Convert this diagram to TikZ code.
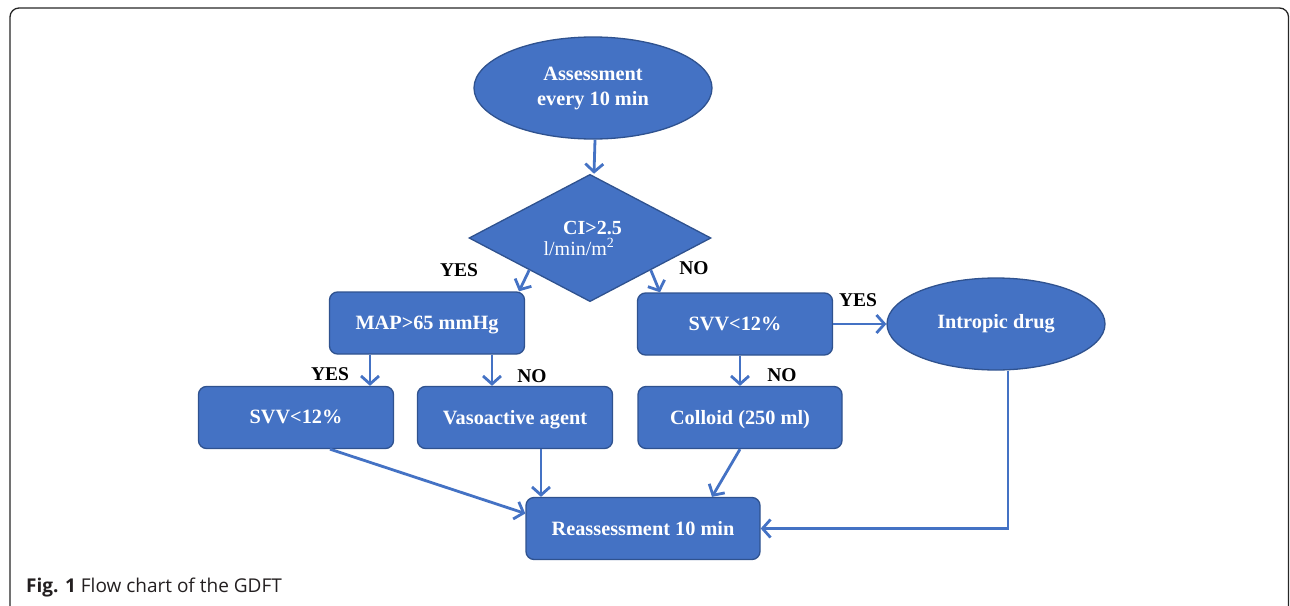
\documentclass[tikz,border=0pt]{standalone}
\usepackage{fontspec}
\setmainfont{Liberation Serif}
\newfontfamily\capfont{Open Sans}
\usetikzlibrary{shapes.geometric,arrows.meta,calc}
\definecolor{boxblue}{HTML}{4472C4}
\definecolor{boxborder}{HTML}{2F528F}
\definecolor{capgray}{HTML}{231F20}
\tikzset{
  box/.style={draw=boxborder, fill=boxblue, rounded corners=8pt, line width=1.3pt, text=white,
    font=\bfseries\fontsize{20.3}{24}\selectfont, minimum width=195pt, minimum height=62pt, inner sep=0pt,
    text depth=1pt},
  oval/.style={ellipse, draw=boxborder, fill=boxblue, line width=1.3pt, text=white,
    font=\bfseries\fontsize{20.3}{25}\selectfont, inner sep=0pt, align=center},
  arr/.style={draw=boxblue, line width=2.8pt, -{Straight Barb[length=8pt,width=18pt,line width=2.8pt]}},
  lab/.style={font=\bfseries\fontsize{19.5}{20}\selectfont, text=black, inner sep=0pt},
}
\begin{document}
\begin{tikzpicture}[x=1pt,y=-1pt]
\useasboundingbox (0,0) rectangle (1290,605);
\begin{scope}
\clip (0,0) rectangle (1290,605);
\draw[rounded corners=9pt, line width=1.3pt, draw=black!85] (10,8) rectangle (1288.5,660);
\end{scope}

% nodes
\node[oval, minimum width=238pt, minimum height=102pt] (assess) at (593,88) {Assessment\\every 10 min};
\node[diamond, draw=boxborder, fill=boxblue, line width=1.3pt, text=white, inner sep=0pt,
  minimum width=242pt, minimum height=120pt, align=center,
  font=\fontsize{20}{20}\selectfont] (dia) at (590,238)
  {\hspace*{5pt}{\bfseries CI>2.5}\\[1pt]l/min/m\textsuperscript{2}\hspace*{22pt}};
\node[box] (map) at (427,323) {MAP>65 mmHg};
\node[box] (svvR) at (735,324) {SVV<12\%};
\node[oval, minimum width=218pt, minimum height=92pt] (intro) at (996,324) {Intropic drug};
\node[box] (svvL) at (296,417.5) {SVV<12\%};
\node[box] (vaso) at (515,417.5) {Vasoactive agent};
\node[box, minimum width=204pt] (colloid) at (740,417.5) {Colloid (250 ml)};
\node[box, minimum width=234pt] (reass) at (643,528.5) {Reassessment 10 min};

% labels
\node[lab] (l1) at (459,270) {YES};
\node[lab] (l2) at (694,268) {NO};
\node[lab] (l3) at (858,300) {YES};
\node[lab] (l4) at (330,374) {YES};
\node[lab] (l5) at (532,376) {NO};
\node[lab] (l6) at (782,375) {NO};

% connectors
\draw[arr] ([xshift=2pt]assess.south) -- ([xshift=4pt]dia.north);
\draw[arr] (dia.south west) -- ([xshift=92pt]map.north);
\draw[arr] (dia.south east) -- ([xshift=-75pt]svvR.north);
\draw[arr] (svvR.east) -- (intro.west);
\draw[arr] ([xshift=-57pt]map.south) -- ([xshift=-57pt]map.south |- svvL.north);
\draw[arr] ([xshift=65pt]map.south) -- ([xshift=65pt]map.south |- vaso.north);
\draw[arr] (colloid.north |- svvR.south) -- (colloid.north);
\draw[arr] ([xshift=34pt]svvL.south) -- ([yshift=15pt]reass.west);
\draw[arr] ([xshift=26pt]vaso.south) -- ([xshift=26pt]vaso.south |- reass.north);
\draw[arr] (colloid.south) -- ([xshift=69pt]reass.north);
\draw[arr] ([xshift=12pt]intro.south) |- (reass.east);

% caption
\node[anchor=base west, inner sep=0pt, text=capgray, font=\capfont\fontsize{19}{22}\selectfont] (cap) at (26,592)
  {\textbf{Fig. 1} Flow chart of the GDFT};
\end{tikzpicture}
\end{document}
